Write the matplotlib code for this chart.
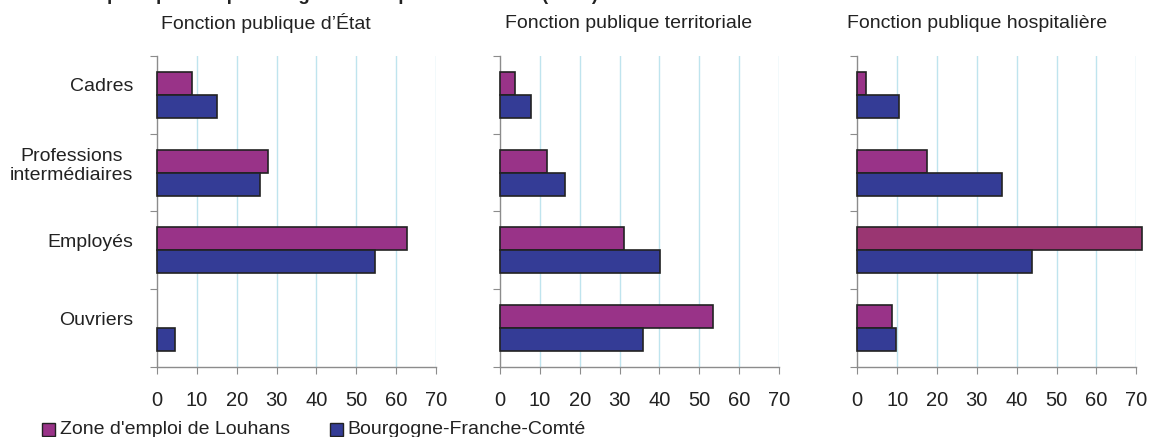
import matplotlib
matplotlib.use("Agg")
import matplotlib.pyplot as plt
import numpy as np
from matplotlib.patches import Rectangle

plt.rcParams['font.family'] = ['Liberation Sans', 'DejaVu Sans']

categories = ["Cadres", "Professions\nintermédiaires", "Employés", "Ouvriers"]
panels = ["Fonction publique d\u2019État", "Fonction publique territoriale", "Fonction publique hospitalière"]
series_names = ["Zone d'emploi de Louhans", "Bourgogne-Franche-Comté"]

louhans_etat = [8.8, 27.8, 62.7, 0.0]
bfc_etat = [15.1, 25.9, 54.6, 4.6]
louhans_terr = [3.7, 11.8, 31.2, 53.4]
bfc_terr = [7.8, 16.4, 40.2, 35.8]
louhans_hosp = [2.3, 17.6, 71.4, 8.7]
bfc_hosp = [10.4, 36.2, 43.9, 9.6]

xticks = [0, 10, 20, 30, 40, 50, 60, 70]

data = [(louhans_etat, bfc_etat), (louhans_terr, bfc_terr), (louhans_hosp, bfc_hosp)]

c_mag = '#993388'
c_mag2 = '#9A3672'
c_blue = '#343C96'
grid_c = '#BFE4EE'
spine_c = '#8C8C8C'
txt_c = '#222222'
FS = 14

W, H = 1149, 437
fig = plt.figure(figsize=(W / 100, H / 100), dpi=100)

lefts = [157, 500, 857.3]
width = 279
top, bottom = 56, 367
title_x = [161, 505, 847]

bh = 0.295
y = np.arange(len(categories))
for k, (ax_left, (s1, s2)) in enumerate(zip(lefts, data)):
    ax = fig.add_axes([ax_left / W, 1 - bottom / H, width / W, (bottom - top) / H])
    cols = [c_mag] * len(categories)
    if k == 2:
        cols[2] = c_mag2
    e1 = ['#222222' if v > 0 else 'none' for v in s1]
    e2 = ['#222222' if v > 0 else 'none' for v in s2]
    ax.barh(y - bh / 2, s1, height=bh, color=cols, edgecolor=e1, linewidth=1.2, clip_on=False, zorder=3)
    ax.barh(y + bh / 2, s2, height=bh, color=c_blue, edgecolor=e2, linewidth=1.2, clip_on=False, zorder=3)
    ax.set_xlim(0, 70)
    ax.set_ylim(3.5, -0.5)
    for xv in xticks[1:]:
        ax.axvline(xv, color=grid_c, lw=1, zorder=1)
    ax.set_xticks(xticks)
    ax.set_xticklabels([str(v) for v in xticks], fontsize=14.5, color=txt_c)
    ax.tick_params(axis='x', length=5, color=spine_c, pad=12)
    ax.set_yticks(np.arange(-0.5, 4.0, 1.0))
    ax.set_yticklabels([])
    ax.tick_params(axis='y', which='major', length=5, color=spine_c, direction='out')
    ax.set_yticks(y - 0.13, minor=True)
    if k == 0:
        ax.set_yticklabels(categories, minor=True, fontsize=FS, color=txt_c, ha='right',
                           multialignment='center')
        ax.tick_params(axis='y', which='minor', length=0, pad=17)
    else:
        ax.set_yticklabels([], minor=True)
        ax.tick_params(axis='y', which='minor', length=0)
    for s in ['top', 'right']:
        ax.spines[s].set_visible(False)
    for s in ['left', 'bottom']:
        ax.spines[s].set_color(spine_c)
        ax.spines[s].set_linewidth(1)
    fig.text(title_x[k] / W, 1 - 23 / H, panels[k], fontsize=FS, color=txt_c, ha='left', va='center')

# main title, clipped at the top edge as in the reference
fig.text(78 / W, 1 + 0.5 / H, "Emplois publics par catégorie socioprofessionnelle (en %)",
         fontsize=13.5, fontweight='bold', color=txt_c, ha='left', va='baseline')

# legend
for (sx, tx, col, name) in [(42, 60, c_mag, series_names[0]), (330, 347, c_blue, series_names[1])]:
    fig.patches.append(Rectangle((sx / W, (H - 429 - 6.5) / H), 12.5 / W, 12.5 / H,
                                 transform=fig.transFigure, facecolor=col, edgecolor='#222222', lw=1))
    fig.text(tx / W, 1 - 429 / H, name, fontsize=FS, color=txt_c, ha='left', va='center')

fig.savefig('out.png', dpi=100)
